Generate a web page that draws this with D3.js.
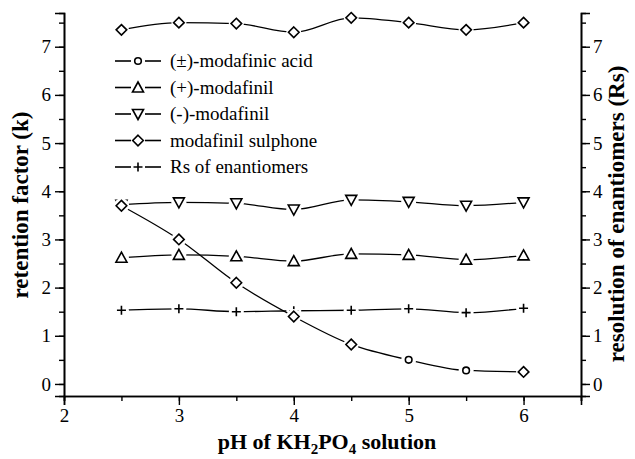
<!DOCTYPE html>
<html>
<head>
<meta charset="utf-8">
<script src="https://cdn.jsdelivr.net/npm/d3@7"></script>
<style>
  body { margin: 0; background: #fff; }
  svg text { font-family: "Liberation Serif", Tinos, Times, "DejaVu Serif", serif; fill: #000; }
</style>
</head>
<body>
<div id="chart"></div>
<script>
// data
var ph = [2.5, 3, 3.5, 4, 4.5, 5, 5.5, 6];
var acid = [3.70, 3.00, 2.10, 1.40, 0.82, 0.50, 0.28, 0.25];
var acidMarks = ['diamond', 'diamond', 'diamond', 'diamond', 'diamond', 'circle', 'circle', 'diamond'];
var plusMod = [2.62, 2.68, 2.65, 2.55, 2.70, 2.68, 2.58, 2.67];
var minusMod = [3.72, 3.77, 3.75, 3.62, 3.82, 3.78, 3.70, 3.77];
var sulphone = [7.35, 7.50, 7.48, 7.30, 7.60, 7.50, 7.35, 7.50];
var rs = [1.53, 1.56, 1.50, 1.52, 1.53, 1.56, 1.48, 1.57];

var legendNames = ['(\u00B1)-modafinic acid', '(+)-modafinil', '(-)-modafinil', 'modafinil sulphone', 'Rs of enantiomers'];
var legendMarks = ['circle', 'up', 'down', 'diamond', 'plus'];

var xTicks = [2, 3, 4, 5, 6];
var yTicks = [0, 1, 2, 3, 4, 5, 6, 7];

var FONT = '"Liberation Serif", Tinos, Times, "DejaVu Serif", serif';
var svgWidth = 635, svgHeight = 459;

var svg = d3.select('#chart').append('svg')
  .attr('width', svgWidth)
  .attr('height', svgHeight)
  .attr('font-family', FONT);

var x = d3.scaleLinear().domain([2, 6.5]).range([64, 581]);
var y = d3.scaleLinear().domain([-0.25, 7.7]).range([396, 13]);
var yR = d3.scaleLinear().domain([-0.25, 7.7]).range([396, 13]);

// marker shapes
function markPath(kind) {
  if (kind === 'circle') return 'M3.3,0A3.3,3.3 0 1,1 -3.3,0A3.3,3.3 0 1,1 3.3,0Z';
  if (kind === 'diamond') return 'M0,-5.3L5.3,0L0,5.3L-5.3,0Z';
  if (kind === 'up') return 'M0,-5.5L5.5,4.5L-5.5,4.5Z';
  if (kind === 'down') return 'M0,5.5L5.5,-4.5L-5.5,-4.5Z';
  return 'M-4.5,0H4.5M0,-4.5V4.5';
}

// axes
var minorX = d3.range(2, 6.51, 0.5);
var minorY = d3.range(0, 7.51, 0.5);

function styleAxis(g) {
  g.attr('font-family', FONT).attr('font-size', 19);
  g.select('.domain').attr('stroke', '#000').attr('stroke-width', 1.6);
  g.selectAll('.tick line').attr('stroke', '#000').attr('stroke-width', 1.4);
  g.selectAll('.tick text').attr('fill', '#000');
}

svg.append('g')
  .attr('transform', 'translate(0,396)')
  .call(d3.axisBottom(x).tickValues(minorX).tickSize(5).tickFormat(''))
  .call(styleAxis);
svg.append('g')
  .attr('transform', 'translate(0,396)')
  .call(d3.axisBottom(x).tickValues(xTicks).tickSize(9).tickPadding(4).tickFormat(d3.format('d')))
  .call(styleAxis);

svg.append('g')
  .attr('transform', 'translate(64,0)')
  .call(d3.axisLeft(y).tickValues(minorY).tickSize(5).tickFormat(''))
  .call(styleAxis);
svg.append('g')
  .attr('transform', 'translate(64,0)')
  .call(d3.axisLeft(y).tickValues(yTicks).tickSize(9).tickPadding(4).tickFormat(d3.format('d')))
  .call(styleAxis);

svg.append('g')
  .attr('transform', 'translate(581,0)')
  .call(d3.axisRight(yR).tickValues(minorY).tickSize(5).tickFormat(''))
  .call(styleAxis);
svg.append('g')
  .attr('transform', 'translate(581,0)')
  .call(d3.axisRight(yR).tickValues(yTicks).tickSize(9).tickPadding(3).tickFormat(d3.format('d')))
  .call(styleAxis);

// axis titles
svg.append('text')
  .attr('transform', 'translate(28,205) rotate(-90)')
  .attr('text-anchor', 'middle')
  .attr('font-size', 23)
  .attr('font-weight', 'bold')
  .text('retention factor (k)');

svg.append('text')
  .attr('transform', 'translate(624,214) rotate(-90)')
  .attr('text-anchor', 'middle')
  .attr('font-size', 23)
  .attr('font-weight', 'bold')
  .text('resolution of enantiomers (Rs)');

var xt = svg.append('text')
  .attr('x', 327)
  .attr('y', 449)
  .attr('text-anchor', 'middle')
  .attr('font-size', 22)
  .attr('font-weight', 'bold');
xt.append('tspan').text('pH of KH');
xt.append('tspan').attr('dy', 5).attr('font-size', 15).text('2');
xt.append('tspan').attr('dy', -5).text('PO');
xt.append('tspan').attr('dy', 5).attr('font-size', 15).text('4');
xt.append('tspan').attr('dy', -5).text(' solution');

// series
var series = [
  { vals: sulphone, marks: ph.map(function() { return 'diamond'; }) },
  { vals: minusMod, marks: ph.map(function() { return 'down'; }) },
  { vals: plusMod, marks: ph.map(function() { return 'up'; }) },
  { vals: rs, marks: ph.map(function() { return 'plus'; }), right: true },
  { vals: acid, marks: acidMarks }
];

var line = d3.line().curve(d3.curveMonotoneX);

series.forEach(function(s) {
  var sc = s.right ? yR : y;
  var pts = ph.map(function(p, i) { return [x(p), sc(s.vals[i])]; });
  svg.append('path')
    .attr('d', line(pts))
    .attr('fill', 'none')
    .attr('stroke', '#000')
    .attr('stroke-width', 1.3);
  var g = svg.append('g');
  // small white gap round each marker
  g.selectAll('circle.gap')
    .data(pts)
    .enter()
    .append('circle')
    .attr('cx', function(d) { return d[0]; })
    .attr('cy', function(d) { return d[1]; })
    .attr('r', 7.5)
    .attr('fill', '#fff');
  g.selectAll('path.mk')
    .data(pts)
    .enter()
    .append('path')
    .attr('transform', function(d) { return 'translate(' + d[0] + ',' + d[1] + ')'; })
    .attr('d', function(d, i) { return markPath(s.marks[i]); })
    .attr('fill', '#fff')
    .attr('stroke', '#000')
    .attr('stroke-width', 1.6);
});

// legend
var legend = svg.append('g');
legendNames.forEach(function(name, i) {
  var ly = 61 + i * 26.5;
  legend.append('line').attr('x1', 115).attr('x2', 131).attr('y1', ly).attr('y2', ly)
    .attr('stroke', '#000').attr('stroke-width', 1.6);
  legend.append('line').attr('x1', 145).attr('x2', 161).attr('y1', ly).attr('y2', ly)
    .attr('stroke', '#000').attr('stroke-width', 1.6);
  legend.append('path')
    .attr('transform', 'translate(138,' + ly + ')')
    .attr('d', markPath(legendMarks[i]))
    .attr('fill', '#fff')
    .attr('stroke', '#000')
    .attr('stroke-width', 1.6);
  legend.append('text')
    .attr('x', 170)
    .attr('y', ly + 6)
    .attr('font-size', 19)
    .text(name);
});
</script>
</body>
</html>
